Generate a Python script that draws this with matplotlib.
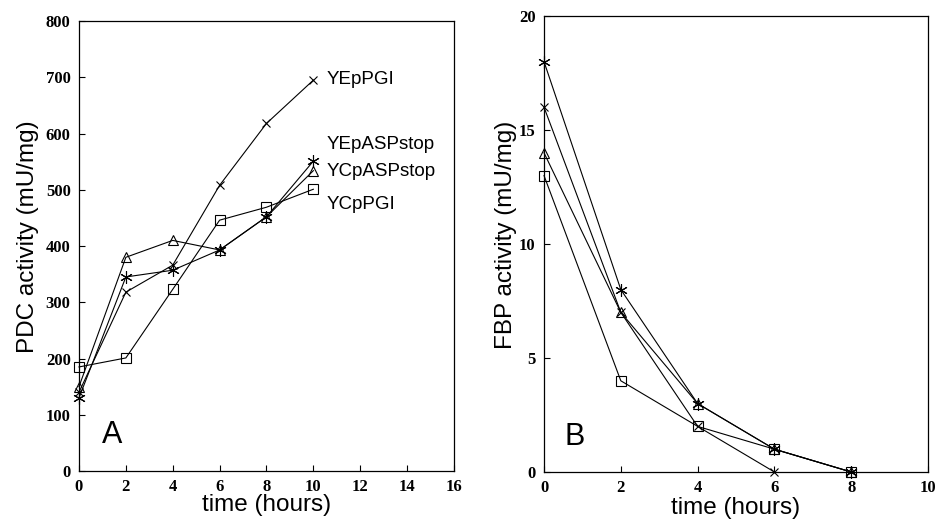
import matplotlib
matplotlib.use("Agg")
import matplotlib.pyplot as plt

# Panel A: PDC activity
time_a = [0, 2, 4, 6, 8, 10]
a_yep_pgi = [140, 318, 366, 508, 618, 695]
a_yep_asp = [130, 345, 357, 393, 452, 551]
a_ycp_asp = [150, 380, 410, 393, 452, 534]
a_ycp_pgi = [185, 201, 323, 446, 469, 501]
a_labels = ["YEpPGI", "YEpASPstop", "YCpASPstop", "YCpPGI"]
a_label_y = [697, 580, 533, 473]

# Panel B: FBP activity
b_x_time = [0, 2, 4, 6]
b_x_vals = [16, 7, 2, 0]
b_star_time = [0, 2, 4, 6, 8]
b_star_vals = [18, 8, 3, 1, 0]
b_tri_time = [0, 2, 4, 6, 8]
b_tri_vals = [14, 7, 3, 1, 0]
b_sq_time = [0, 2, 4, 6, 8]
b_sq_vals = [13, 4, 2, 1, 0]

a_xticks = list(range(0, 17, 2))
a_yticks = list(range(0, 801, 100))
b_xticks = list(range(0, 11, 2))
b_yticks = [0, 5, 10, 15, 20]

fig = plt.figure(figsize=(9.37, 5.27), dpi=100)
axA = fig.add_axes([0.0843, 0.1063, 0.4002, 0.8537])
axB = fig.add_axes([0.5806, 0.1044, 0.4098, 0.8652])

lw = 0.8
mk = dict(color="black", lw=lw, markerfacecolor="none", markeredgecolor="black", markeredgewidth=0.8, clip_on=False)
star = (6, 2, 0)

for ax, data in ((axA, [(time_a, a_yep_pgi), (time_a, a_yep_asp), (time_a, a_ycp_asp), (time_a, a_ycp_pgi)]),
                 (axB, [(b_x_time, b_x_vals), (b_star_time, b_star_vals), (b_tri_time, b_tri_vals), (b_sq_time, b_sq_vals)])):
    ax.plot(*data[0], marker="x", ms=6, **mk)
    ax.plot(*data[1], marker=star, ms=9, **mk)
    ax.plot(*data[2], marker="^", ms=7.5, **mk)
    ax.plot(*data[3], marker="s", ms=6.5, **mk)

sans = "Liberation Sans"
for lab, yy in zip(a_labels, a_label_y):
    axA.text(10.55, yy, lab, fontsize=13.5, family=sans, va="center", ha="left")

axA.text(1.4, 64, "A", fontsize=22, family=sans, ha="center", va="center")
axB.text(0.8, 1.55, "B", fontsize=22, family=sans, ha="center", va="center")

def style(ax, xt, yt, xlim, ylim):
    ax.set_xlim(*xlim)
    ax.set_ylim(*ylim)
    ax.set_xticks(xt)
    ax.set_yticks(yt)
    ax.tick_params(direction="in", length=4, width=0.8, pad=6)
    for lbl in ax.get_xticklabels() + ax.get_yticklabels():
        lbl.set_family("Liberation Serif")
        lbl.set_fontweight("bold")
        lbl.set_fontsize(12)
    for s in ax.spines.values():
        s.set_linewidth(0.9)

style(axA, a_xticks, a_yticks, (0, 16), (0, 800))
style(axB, b_xticks, b_yticks, (0, 10), (0, 20))

axA.set_xlabel("time (hours)", fontsize=17.5, family=sans)
axA.set_ylabel("PDC activity (mU/mg)", fontsize=17.5, family=sans)
axB.set_xlabel("time (hours)", fontsize=17.5, family=sans)
axB.set_ylabel("FBP activity (mU/mg)", fontsize=17.5, family=sans)
axA.xaxis.set_label_coords(0.5, -0.076)
axB.xaxis.set_label_coords(0.5, -0.078)
axA.yaxis.set_label_coords(-0.136, 0.52)
axB.yaxis.set_label_coords(-0.10, 0.52)
for ax in (axA, axB):
    ax.xaxis.label.set_va("center")
    ax.yaxis.label.set_va("center")

fig.savefig("out.png", dpi=100)
